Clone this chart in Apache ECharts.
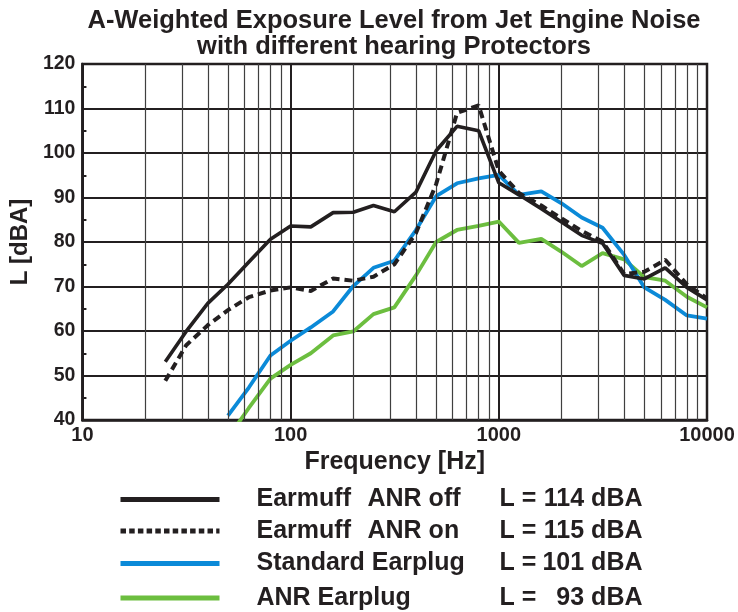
<!DOCTYPE html>
<html>
<head>
<meta charset="utf-8">
<script src="https://cdn.jsdelivr.net/npm/echarts@6/dist/echarts.min.js"></script>
<style>html,body{margin:0;padding:0;background:#fff}#c{width:738px;height:612px}</style>
</head>
<body>
<div id="c"></div>
<script>
// Third-octave band centre frequencies [Hz]
var freqs = [25, 31.5, 40, 50, 63, 80, 100, 125, 160, 200, 250, 315, 400, 500, 630, 800, 1000, 1250, 1600, 2000, 2500, 3150, 4000, 5000, 6300, 8000, 10000];
// Levels L [dBA]
var earmuffOff = [53.1, 59.9, 66.2, 70.5, 75.5, 80.6, 83.6, 83.4, 86.6, 86.7, 88.2, 86.8, 91.2, 100.5, 106.0, 105.0, 93.3, 90.6, 87.5, 84.5, 81.5, 79.7, 72.5, 71.7, 74.2, 69.8, 67.0];
var earmuffOn = [48.8, 56.8, 61.3, 64.7, 67.6, 69.1, 69.8, 69.0, 71.8, 71.3, 72.2, 75.0, 82.0, 93.0, 109.0, 110.7, 96.0, 91.0, 88.2, 85.3, 82.5, 80.1, 72.8, 73.3, 76.0, 70.5, 67.3];
var standardPlug = [null, null, null, 41.0, 47.3, 54.5, 57.8, 60.8, 64.4, 70.1, 74.2, 75.8, 82.7, 90.3, 93.2, 94.3, 95.1, 90.6, 91.4, 88.7, 85.5, 83.2, 77.1, 69.8, 67.0, 63.5, 62.8];
var anrPlug = [null, null, null, 36.0, 42.7, 49.3, 52.4, 55.0, 59.0, 59.9, 63.8, 65.3, 72.5, 80.0, 82.7, 83.6, 84.6, 79.8, 80.7, 77.8, 74.6, 77.5, 76.1, 72.1, 71.3, 67.7, 65.3];
// Minor vertical grid frequencies
var minorFreqs = [20, 30, 40, 50, 60, 70, 80, 90, 200, 300, 400, 500, 600, 700, 800, 900, 2000, 3000, 4000, 5000, 6000, 7000, 8000, 9000];
// Legend texts
var seriesNames = ['Earmuff ANR off', 'Earmuff ANR on', 'Standard Earplug', 'ANR Earplug'];
var legendLevels = ['114 dBA', '115 dBA', '101 dBA', '93 dBA'];

var INK = '#231f20';
var BLUE = '#0b8ad8';
var GREEN = '#6cbe3f';
var FONT = '"Liberation Sans", Arial, Helvetica, sans-serif';

function pairs(vals) {
  var out = [];
  for (var i = 0; i < freqs.length; i++) out.push([freqs[i], vals[i]]);
  return out;
}

var chart = echarts.init(document.getElementById('c'), null, {renderer: 'canvas'});

var rowCenters = [497, 528.5, 561, 595.5];
var legendLineStyles = [
  {color: INK, width: 5, type: 'solid'},
  {color: INK, width: 5, type: [5.5, 3.2]},
  {color: BLUE, width: 5, type: 'solid'},
  {color: GREEN, width: 5, type: 'solid'}
];

function tok(w, extra) {
  var s = {width: w, fontSize: 25, fontWeight: 'bold', color: INK, fontFamily: FONT};
  if (extra) for (var k in extra) s[k] = extra[k];
  return s;
}

var legends = seriesNames.map(function (n, i) {
  return {
    data: [{name: n, lineStyle: legendLineStyles[i], itemStyle: {opacity: 0, color: 'transparent', borderWidth: 0}}],
    orient: 'vertical',
    left: 118,
    top: rowCenters[i] - 10,
    padding: 0,
    itemWidth: 99,
    itemHeight: 20,
    selectedMode: false,
    formatter: function (name) {
      var k = seriesNames.indexOf(name);
      var head;
      if (k === 0) head = '{a|Earmuff}{b|ANR off}';
      else if (k === 1) head = '{a|Earmuff}{b|ANR on}';
      else head = '{c|' + name + '}';
      return '{p| }' + head + '{l|L =}{v|' + legendLevels[k] + '}';
    },
    textStyle: {
      color: INK,
      fontFamily: FONT,
      fontWeight: 'bold',
      fontSize: 25,
      rich: {
        p: tok(32),
        a: tok(111),
        b: tok(132),
        c: tok(243),
        l: tok(45),
        v: tok(98, {align: 'right'})
      }
    }
  };
});

var option = {
  animation: false,
  backgroundColor: '#fff',
  graphic: [{
    type: 'text',
    x: 394,
    y: 8,
    style: {
      text: 'A-Weighted Exposure Level from Jet Engine Noise\nwith different hearing Protectors',
      align: 'center',
      verticalAlign: 'top',
      fontFamily: FONT,
      fontWeight: 'bold',
      fontSize: 25.5,
      lineHeight: 26,
      fill: INK
    }
  }],
  legend: legends,
  grid: {
    left: 78, top: 64, right: 31, bottom: 192,
    show: true, borderColor: INK, borderWidth: 2.5, containLabel: false
  },
  xAxis: {
    type: 'log',
    logBase: 10,
    min: 10,
    max: 10000,
    name: 'Frequency [Hz]',
    nameLocation: 'middle',
    nameGap: 20,
    nameTextStyle: {color: INK, fontFamily: FONT, fontWeight: 'bold', fontSize: 25},
    axisLine: {show: true, lineStyle: {color: INK, width: 2.5}},
    axisTick: {show: false},
    axisLabel: {
      color: INK, fontFamily: FONT, fontWeight: 'bold', fontSize: 20, margin: 5,
      formatter: function (v) { return String(Math.round(v)); }
    },
    splitLine: {show: true, lineStyle: {color: INK, width: 2}},
    minorTick: {show: false},
    minorSplitLine: {show: false}
  },
  yAxis: {
    type: 'value',
    min: 40,
    max: 120,
    interval: 10,
    name: 'L [dBA]',
    nameLocation: 'middle',
    nameGap: 44,
    nameRotate: 90,
    nameTextStyle: {color: INK, fontFamily: FONT, fontWeight: 'bold', fontSize: 24},
    axisLine: {show: true, lineStyle: {color: INK, width: 2.5}},
    axisTick: {show: true, inside: true, length: 4, lineStyle: {color: INK, width: 2}},
    minorTick: {show: true, splitNumber: 2, length: 4, lineStyle: {color: INK, width: 2}},
    axisLabel: {color: INK, fontFamily: FONT, fontWeight: 'bold', fontSize: 19.5, margin: 7},
    splitLine: {show: true, lineStyle: {color: INK, width: 2}}
  },
  series: [
    {
      name: 'minorGrid',
      type: 'line',
      data: [],
      z: 1,
      silent: true,
      markLine: {
        silent: true,
        symbol: ['none', 'none'],
        label: {show: false},
        lineStyle: {color: '#3f3f3f', width: 1.2, type: 'solid'},
        emphasis: {disabled: true},
        data: minorFreqs.map(function (f) { return {xAxis: f}; })
      }
    },
    {
      name: seriesNames[3], type: 'line', data: pairs(anrPlug), symbol: 'none', z: 3,
      lineStyle: {color: GREEN, width: 3.8}, itemStyle: {color: GREEN}, clip: true
    },
    {
      name: seriesNames[2], type: 'line', data: pairs(standardPlug), symbol: 'none', z: 4,
      lineStyle: {color: BLUE, width: 3.8}, itemStyle: {color: BLUE}, clip: true
    },
    {
      name: seriesNames[1], type: 'line', data: pairs(earmuffOn), symbol: 'none', z: 5,
      lineStyle: {color: INK, width: 4, type: [8, 5]}, itemStyle: {color: INK}, clip: true
    },
    {
      name: seriesNames[0], type: 'line', data: pairs(earmuffOff), symbol: 'none', z: 6,
      lineStyle: {color: INK, width: 3.6}, itemStyle: {color: INK}, clip: true
    }
  ]
};
chart.setOption(option);
</script>
</body>
</html>
